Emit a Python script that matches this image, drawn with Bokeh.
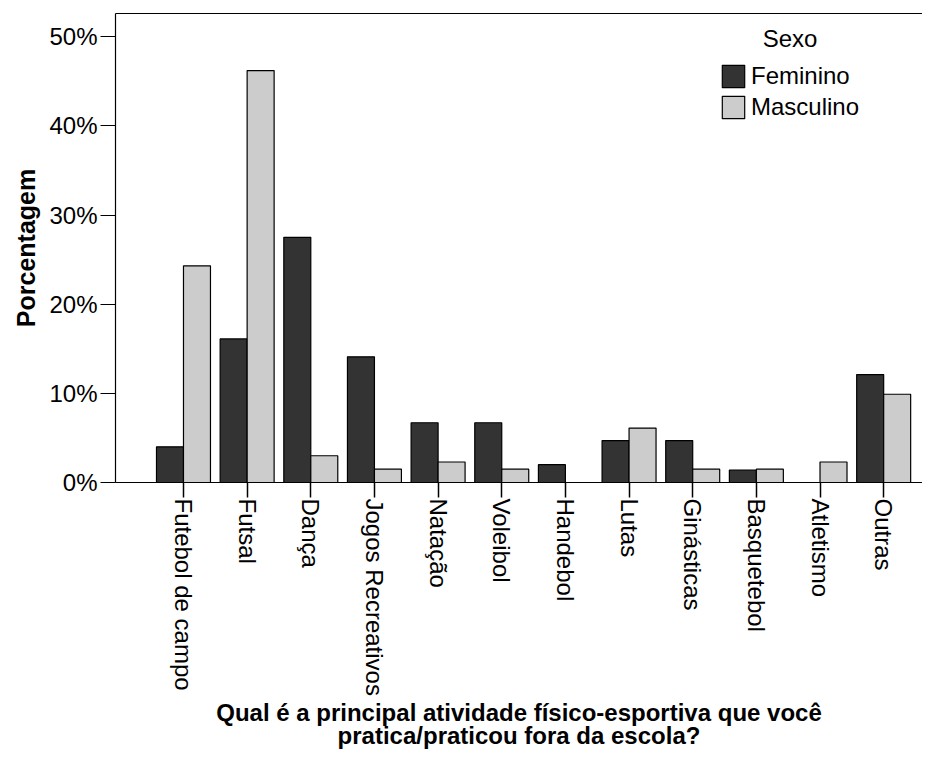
from bokeh.plotting import figure
from bokeh.models import Range1d, FixedTicker, LinearAxis, Legend, LegendItem, Label
from bokeh.embed import file_html
from bokeh.resources import INLINE
import math

categories = ["Futebol de campo", "Futsal", "Dança", "Jogos Recreativos", "Natação",
              "Voleibol", "Handebol", "Lutas", "Ginásticas", "Basquetebol",
              "Atletismo", "Outras"]
feminino = [4.0, 16.1, 27.5, 14.1, 6.7, 6.7, 2.0, 4.7, 4.7, 1.4, 0.0, 12.1]
masculino = [24.3, 46.2, 3.0, 1.5, 2.3, 1.5, 0.0, 6.1, 1.5, 1.5, 2.3, 9.9]
y_ticks = [0, 10, 20, 30, 40, 50]
y_tick_labels = ["0%", "10%", "20%", "30%", "40%", "50%"]
series_names = ["Feminino", "Masculino"]
x_title = "Qual é a principal atividade físico-esportiva que você\npratica/praticou fora da escola?"

FONT = "Liberation Sans"
W, H = 922, 751
Y_MAX = 52.6

p = figure(width=W, height=H, output_backend="svg", toolbar_location=None,
           x_range=Range1d(-1.068, 11.61), y_range=Range1d(0, Y_MAX),
           min_border_left=115, min_border_right=0, min_border_top=13,
           min_border_bottom=269)
p.outline_line_color = None
p.grid.visible = False
p.background_fill_color = "white"

idx = list(range(len(categories)))
bw = 0.424
rf = p.vbar(x=[i - bw / 2 for i in idx], top=feminino, width=bw, bottom=0,
            fill_color="#333333", line_color="black", line_width=1.2)
rm = p.vbar(x=[i + bw / 2 for i in idx], top=masculino, width=bw, bottom=0,
            fill_color="#cccccc", line_color="black", line_width=1.2)

# axes
xa = p.xaxis[0]
xa.ticker = FixedTicker(ticks=idx)
xa.major_label_overrides = {i: c for i, c in zip(idx, categories)}
xa.major_label_orientation = -math.pi / 2
xa.minor_tick_line_color = None
xa.major_tick_out = 15
xa.major_tick_in = 0
xa.major_tick_line_width = 1.5
xa.axis_line_width = 1.2
xa.major_label_text_font = FONT
xa.major_label_text_font_size = "24px"
xa.major_label_text_color = "black"
xa.major_label_standoff = 1
xa.axis_label = x_title
xa.axis_label_text_font = FONT
xa.axis_label_text_font_style = "bold"
xa.axis_label_text_font_size = "24px"
xa.axis_label_text_line_height = 0.85
xa.axis_label_text_color = "black"
xa.axis_label_standoff = 0

ya = p.yaxis[0]
ya.ticker = FixedTicker(ticks=y_ticks)
ya.major_label_overrides = {t: l for t, l in zip(y_ticks, y_tick_labels)}
ya.minor_tick_line_color = None
ya.major_tick_out = 15
ya.major_tick_in = 0
ya.major_tick_line_width = 1.2
ya.axis_line_width = 1.2
ya.major_label_text_font = FONT
ya.major_label_text_font_size = "24px"
ya.major_label_text_color = "black"
ya.major_label_standoff = 3
ya.axis_label = "Porcentagem"
ya.axis_label_text_font = FONT
ya.axis_label_text_font_style = "bold"
ya.axis_label_text_font_size = "25px"
ya.axis_label_text_color = "black"
ya.axis_label_standoff = 6

top_axis = LinearAxis(ticker=FixedTicker(ticks=[]), major_tick_line_color=None,
                      minor_tick_line_color=None, axis_line_width=1.2)
p.add_layout(top_axis, "above")

legend = Legend(items=[LegendItem(label=series_names[0], renderers=[rf]),
                       LegendItem(label=series_names[1], renderers=[rm])],
                location=(604, 361), padding=0, margin=0, spacing=3,
                glyph_width=28, glyph_height=28, label_height=28,
                label_standoff=4, border_line_color=None,
                background_fill_alpha=0,
                label_text_font=FONT, label_text_font_size="24px",
                label_text_color="black")
p.add_layout(legend, "center")

p.add_layout(Label(x=9.53, y=49.75, text="Sexo", text_font=FONT,
                   text_font_size="24px", text_color="black", text_align="center",
                   text_baseline="middle"))

open("out.html", "w").write(file_html(p, INLINE))
